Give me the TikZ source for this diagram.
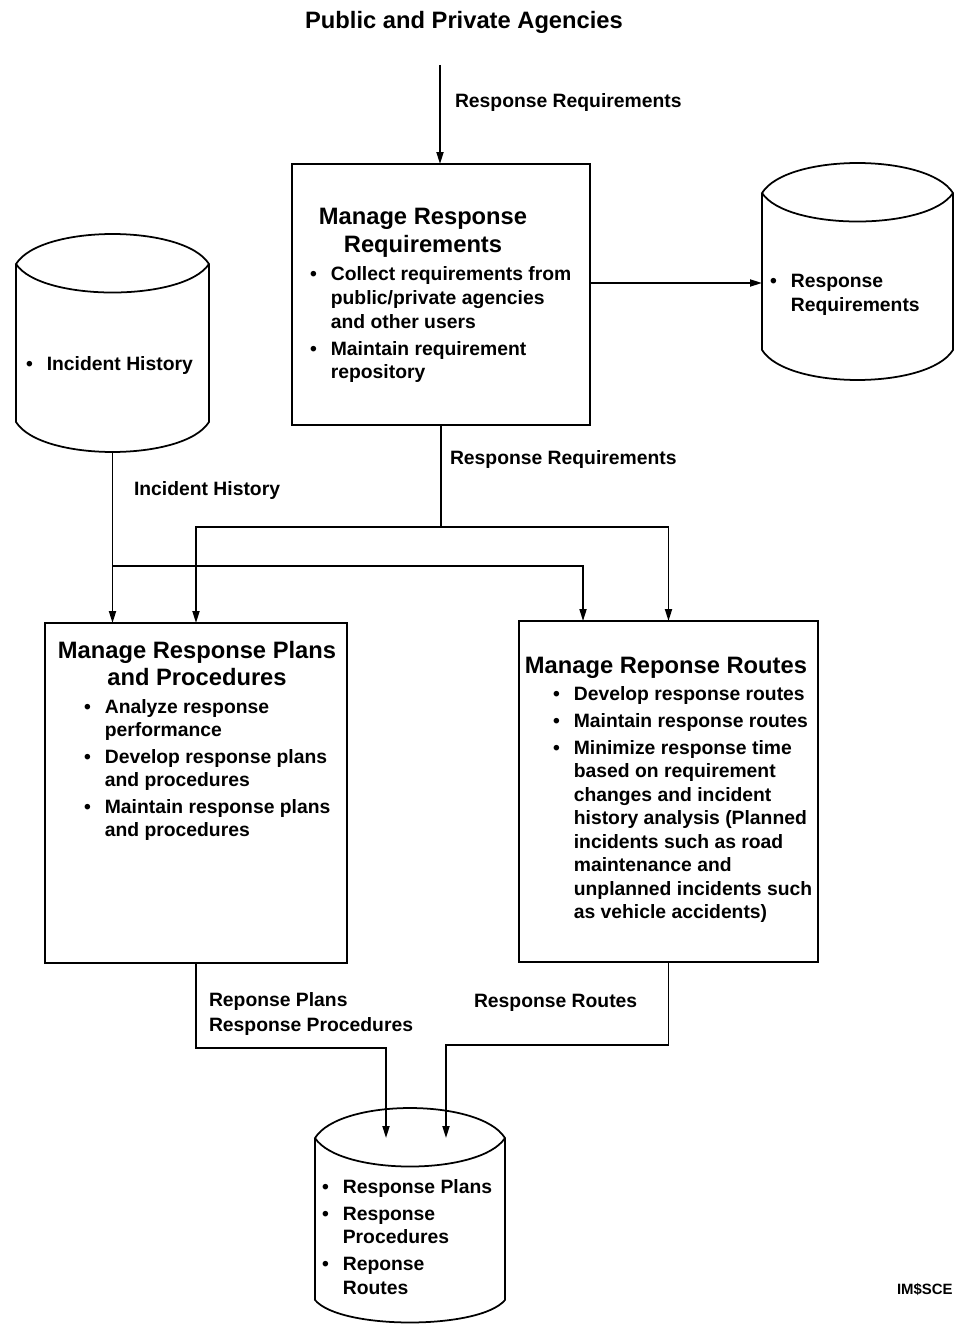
\documentclass[tikz,border=0pt]{standalone}
\usepackage{fontspec}
\setmainfont{Liberation Sans}
\usetikzlibrary{arrows.meta, positioning, calc}

\newcommand{\lblsize}{\fontsize{11}{13.4}\selectfont\bfseries}
\newcommand{\ttlsize}{\fontsize{13.5}{15.4}\selectfont\bfseries}
\newcommand{\bullist}[1]{\begin{tabular}[t]{@{}l@{\hspace{8pt}}l@{}}#1\end{tabular}}
\newcommand{\ctrlines}[1]{\begin{tabular}[t]{@{}c@{}}#1\end{tabular}}
\newcommand{\leftlines}[1]{\begin{tabular}[t]{@{}l@{}}#1\end{tabular}}
% cylinder outline round a body node, plus its top and bottom points
% optional argument: pull of the bottom curve
\newcommand{\drawcyl}[2][40]{%
  \draw[line width=1pt]
    (#2.north west) -- (#2.south west)
    .. controls ($(#2.south west)+(25,#1)$) and ($(#2.south east)+(-25,#1)$) .. (#2.south east)
    -- (#2.north east)
    .. controls ($(#2.north east)+(-25,-40)$) and ($(#2.north west)+(25,-40)$) .. (#2.north west)
    .. controls ($(#2.north west)+(25,38)$) and ($(#2.north east)+(-25,38)$) .. (#2.north east);
  \coordinate (#2-top) at ($(#2.north)+(0,-30)$);
  \coordinate (#2-bot) at ($(#2.south)+(0,0.75*#1)$);
}

\begin{document}
\begin{tikzpicture}[
    x=0.02cm, y=-0.02cm,
    every node/.style={inner sep=0pt, outer sep=0pt},
    procbox/.style={rectangle, draw, line width=1pt, inner sep=0pt},
    dbbody/.style={rectangle, draw=none, inner sep=0pt},
    lbl/.style={font=\lblsize, anchor=base west},
    ttl/.style={font=\ttlsize, anchor=base},
    flow/.style={line width=1pt},
    arr/.style={-{Triangle[length=2.4mm,width=1.4mm]}, line width=1pt}
  ]
    \useasboundingbox (0,0) rectangle (955,1327);

    % process boxes
    \node[procbox, minimum width=5.96cm, minimum height=5.22cm] (mrr) at (441,294.5) {};
    \node[procbox, minimum width=6.04cm, minimum height=6.80cm] (mrpp) at (196,793) {};
    \node[procbox, minimum width=5.98cm, minimum height=6.82cm] (mrt) at (668.5,791.5) {};

    % data stores
    \node[dbbody, minimum width=3.86cm, minimum height=3.16cm] (ihdb) at (112.5,343) {};
    \node[dbbody, minimum width=3.82cm, minimum height=3.14cm] (rrdb) at (857.5,271.5) {};
    \node[dbbody, minimum width=3.80cm, minimum height=3.24cm] (plandb) at (410,1219) {};
    \drawcyl{ihdb}
    \drawcyl{rrdb}
    \drawcyl[30]{plandb}

    % texts
    \node[ttl] (agtitle) at (464,29) {Public and Private Agencies};

    \node[ttl] (mrrttl) at (423,225) {\ctrlines{Manage Response\\Requirements}};
    \node[lbl] (mrrlist) at (310,281) {\bullist{%
      \textbullet & Collect requirements from\\
                  & public/private agencies\\
                  & and other users\\[2pt]
      \textbullet & Maintain requirement\\
                  & repository}};

    \node[ttl] (mrppttl) at (197,658) {\ctrlines{Manage Response Plans\\and Procedures}};
    \node[lbl] (mrpplist) at (84,713) {\bullist{%
      \textbullet & Analyze response\\
                  & performance\\[1.7pt]
      \textbullet & Develop response plans\\
                  & and procedures\\[1.7pt]
      \textbullet & Maintain response plans\\
                  & and procedures}};

    \node[ttl] (mrtttl) at (666,673) {Manage Reponse Routes};
    \node[lbl] (mrtlist) at (553,700) {\bullist{%
      \textbullet & Develop response routes\\[2pt]
      \textbullet & Maintain response routes\\[2pt]
      \textbullet & Minimize response time\\
                  & based on requirement\\
                  & changes and incident\\
                  & history analysis (Planned\\
                  & incidents such as road\\
                  & maintenance and\\
                  & unplanned incidents such\\
                  & as vehicle accidents)}};

    \node[lbl] (ihtxt) at (26,371) {\bullist{\textbullet & Incident History}};
    \node[lbl] (rrtxt) at (770,288) {\bullist{\textbullet & Response\\ & Requirements}};
    \node[lbl] (plantxt) at (322,1193) {\bullist{%
      \textbullet & Response Plans\\[2pt]
      \textbullet & Response\\
                  & Procedures\\[2pt]
      \textbullet & Reponse\\
                  & Routes}};

    % flow labels
    \node[lbl] (rqlbl) at (455,108) {Response Requirements};
    \node[lbl] (rqlbl2) at (450,464) {Response Requirements};
    \node[lbl] (ihlbl) at (134,495) {Incident History};
    \node[lbl] (planlbl) at (209,1006) {\leftlines{Reponse Plans\\[1pt]Response Procedures}};
    \node[lbl] (rtlbl) at (474,1007) {Response Routes};
    \node[lbl, font=\fontsize{8.5}{10}\selectfont\bfseries] (figid) at (897,1294) {IM\$SCE};

    % flows
    \coordinate (agsrc) at (440,65);
    \draw[arr] (agsrc) -- (agsrc |- mrr.north);
    \draw[arr] ([yshift=0.23cm]mrr.east) -- ([yshift=-0.23cm]rrdb.west);

    \coordinate (rqsplit) at ($(mrr.south)+(0,102)$);
    \draw[flow] (mrr.south) -- (rqsplit);
    \draw[arr] (rqsplit) -| (mrpp.north);
    \draw[arr] (rqsplit) -| (mrt.north);

    \coordinate (ihsplit) at ($(ihdb-bot)+(0,114)$);
    \draw[arr] (ihdb-bot) -- (ihdb-bot |- mrpp.north);
    \draw[arr] (ihsplit) -| ([xshift=-1.71cm]mrt.north);

    \draw[arr] (mrpp.south) -- ++(0,85) -| ([xshift=-0.48cm]plandb.north);
    \draw[arr] (mrt.south) -- ++(0,83) -| ([xshift=0.72cm]plandb.north);
  \end{tikzpicture}
\end{document}
